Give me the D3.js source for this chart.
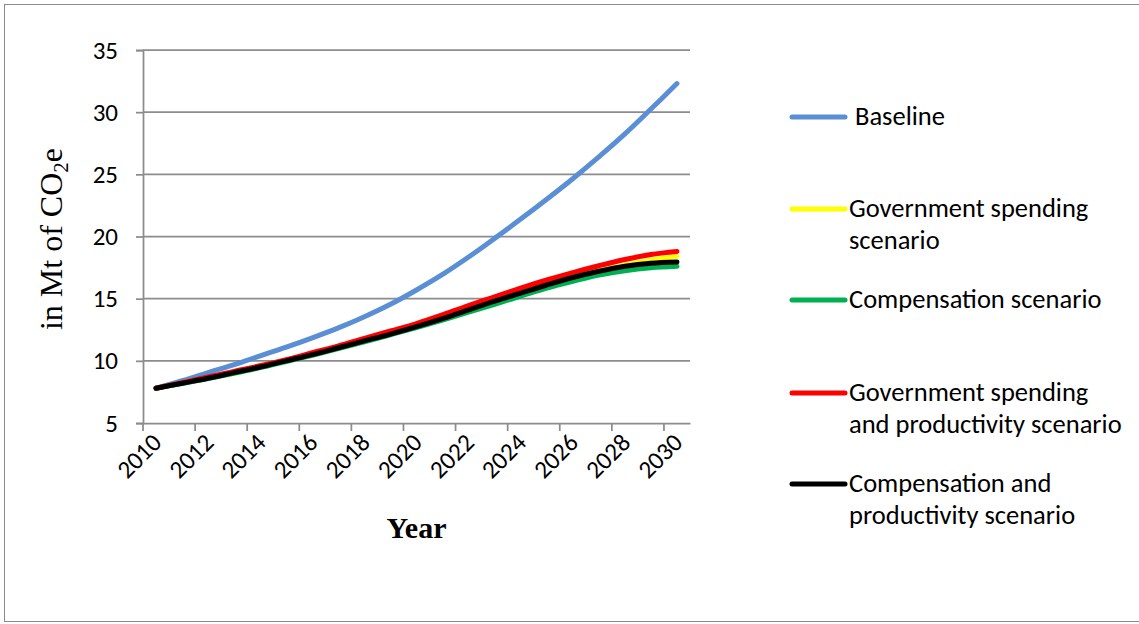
<!DOCTYPE html>
<html>
<head>
<meta charset="utf-8">
<script src="https://cdn.jsdelivr.net/npm/d3@7/dist/d3.min.js"></script>
<style>
  body { margin: 0; background: #fff; }
  svg { display: block; }
</style>
</head>
<body>
<svg id="chart" width="1139" height="624"></svg>
<script>
// Years on the category axis
const years = [2010, 2011, 2012, 2013, 2014, 2015, 2016, 2017, 2018, 2019, 2020,
               2021, 2022, 2023, 2024, 2025, 2026, 2027, 2028, 2029, 2030];

// Emissions per scenario, in Mt of CO2e
const baseline      = [7.8, 8.4, 9.05, 9.7, 10.4, 11.1, 11.85, 12.65, 13.55, 14.55, 15.7,
                       16.95, 18.35, 19.85, 21.4, 23.0, 24.65, 26.4, 28.25, 30.25, 32.3];
const govSpending   = [7.8, 8.22, 8.65, 9.1, 9.55, 10.05, 10.58, 11.12, 11.7, 12.28, 12.88,
                       13.5, 14.15, 14.85, 15.5, 16.15, 16.75, 17.25, 17.7, 18.1, 18.4];
const compensation  = [7.8, 8.18, 8.58, 9.0, 9.45, 9.95, 10.45, 10.98, 11.53, 12.1, 12.68,
                       13.28, 13.92, 14.55, 15.2, 15.85, 16.4, 16.9, 17.25, 17.48, 17.6];
const govSpendProd  = [7.8, 8.25, 8.7, 9.15, 9.6, 10.1, 10.65, 11.2, 11.8, 12.4, 13.0,
                       13.7, 14.45, 15.15, 15.85, 16.5, 17.1, 17.65, 18.15, 18.55, 18.8];
const compProd      = [7.8, 8.2, 8.6, 9.05, 9.5, 10.0, 10.5, 11.05, 11.6, 12.15, 12.75,
                       13.4, 14.1, 14.8, 15.45, 16.1, 16.7, 17.2, 17.6, 17.85, 17.95];

const yTicks = [5, 10, 15, 20, 25, 30, 35];
const xTickLabels = [2010, 2012, 2014, 2016, 2018, 2020, 2022, 2024, 2026, 2028, 2030];

const seriesNames = ["Baseline", "Government spending scenario", "Compensation scenario",
                     "Government spending and productivity scenario", "Compensation and productivity scenario"];
const legendLines = [[" Baseline"], ["Government spending", "scenario"], ["Compensation scenario"],
                     ["Government spending", "and productivity scenario"], ["Compensation and", "productivity scenario"]];
const seriesColors = ["#5a8fd6", "#ffff00", "#00b050", "#ff0000", "#000000"];
const seriesValues = [baseline, govSpending, compensation, govSpendProd, compProd];

const svg = d3.select("#chart");
const gridColor = "#8c8c8c";
const sansFont = "Carlito, Calibri, Lato, sans-serif";
const serifFont = "'Liberation Serif', 'Times New Roman', serif";

// outer frame
svg.append("rect")
  .attr("x", 4.5).attr("y", 4.5)
  .attr("width", 1140).attr("height", 617)
  .attr("fill", "none").attr("stroke", "#8a8a8a").attr("stroke-width", 1);

const plot = { left: 143, right: 690, top: 50, bottom: 423 };

const x = d3.scaleBand().domain(years).range([plot.left, plot.right]).padding(0);
const xc = d => x(d) + x.bandwidth() / 2;
const y = d3.scaleLinear().domain([5, 35]).range([plot.bottom, plot.top]);

// horizontal gridlines
svg.append("g").selectAll("line")
  .data(yTicks.filter(t => t !== 5))
  .join("line")
  .attr("x1", plot.left).attr("x2", plot.right)
  .attr("y1", d => y(d)).attr("y2", d => y(d))
  .attr("stroke", gridColor).attr("stroke-width", 1.75);

// y axis
const yAxis = svg.append("g")
  .attr("transform", `translate(${plot.left},0)`)
  .call(d3.axisLeft(y).tickValues(yTicks).tickSize(7).tickPadding(18).tickFormat(d3.format("d")));
yAxis.select(".domain").attr("stroke", gridColor).attr("stroke-width", 1.75);
yAxis.selectAll(".tick line").attr("stroke", gridColor).attr("stroke-width", 1.75);
yAxis.selectAll(".tick text")
  .attr("font-family", sansFont).attr("font-size", 25).attr("fill", "#000");

// x axis: labels at category centres, tick marks on category boundaries
const xAxis = svg.append("g")
  .attr("transform", `translate(0,${plot.bottom})`)
  .call(d3.axisBottom(x).tickValues(xTickLabels).tickSize(0).tickPadding(0));
xAxis.select(".domain").attr("stroke", gridColor).attr("stroke-width", 1.75);
xAxis.selectAll(".tick text")
  .attr("font-family", sansFont).attr("font-size", 25).attr("fill", "#000")
  .attr("text-anchor", "end")
  .attr("dy", 0).attr("y", 0)
  .attr("transform", "translate(7,21) rotate(-45)");

svg.append("g").selectAll("line")
  .data(xTickLabels)
  .join("line")
  .attr("x1", d => x(d)).attr("x2", d => x(d))
  .attr("y1", plot.bottom).attr("y2", plot.bottom + 8)
  .attr("stroke", gridColor).attr("stroke-width", 1.75);

// series lines
const line = d3.line()
  .x((d, i) => xc(years[i]))
  .y(d => y(d))
  .curve(d3.curveCatmullRom.alpha(0.5));

svg.append("g").selectAll("path")
  .data(seriesValues)
  .join("path")
  .attr("d", d => line(d))
  .attr("fill", "none")
  .attr("stroke", (d, i) => seriesColors[i])
  .attr("stroke-width", 5)
  .attr("stroke-linecap", "round")
  .attr("stroke-linejoin", "round");

// axis titles
const yTitle = svg.append("text")
  .attr("transform", "translate(62,239) rotate(-90)")
  .attr("text-anchor", "middle")
  .attr("font-family", serifFont).attr("font-size", 32).attr("fill", "#000");
yTitle.append("tspan").text("in Mt of CO");
yTitle.append("tspan").text("2").attr("font-size", 21).attr("dy", 6);
yTitle.append("tspan").text("e").attr("dy", -6);

svg.append("text")
  .attr("x", (plot.left + plot.right) / 2).attr("y", 538)
  .attr("text-anchor", "middle")
  .attr("font-family", serifFont).attr("font-size", 30).attr("font-weight", "bold")
  .attr("fill", "#000")
  .text("Year");

// legend
const legendY = [117, 209, 300, 393, 484];
const legend = svg.append("g");
seriesNames.forEach((name, i) => {
  const g = legend.append("g").attr("transform", `translate(0,${legendY[i]})`);
  g.append("line")
    .attr("x1", 792).attr("x2", 845).attr("y1", 0).attr("y2", 0)
    .attr("stroke", seriesColors[i]).attr("stroke-width", 5).attr("stroke-linecap", "round");
  const t = g.append("text")
    .attr("font-family", sansFont).attr("font-size", 26.5).attr("fill", "#000")
    .attr("xml:space", "preserve");
  legendLines[i].forEach((s, j) => {
    t.append("tspan").attr("x", 849).attr("y", 8 + j * 32).text(s);
  });
});
</script>
</body>
</html>
